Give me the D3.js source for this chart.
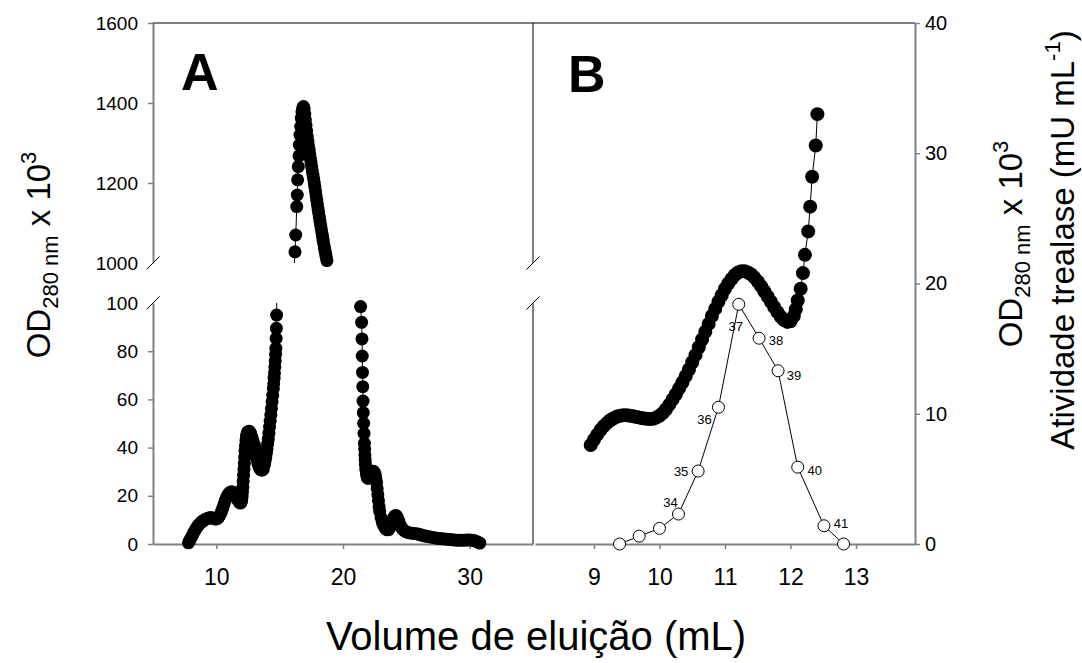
<!DOCTYPE html>
<html>
<head>
<meta charset="utf-8">
<script src="https://cdn.jsdelivr.net/npm/d3@7"></script>
<style>
  body { margin: 0; background: #fff; }
  text { font-family: "Liberation Sans", Arial, sans-serif; }
</style>
</head>
<body>
<svg id="chart" width="1082" height="663"></svg>
<script>
// panel A: OD280 x 10^3 vs elution volume (broken axis 0-100 / 1000-1600)
var aVol = [7.80,7.90,8.00,8.10,8.20,8.30,8.40,8.50,8.60,8.70,8.80,8.90,9.00,9.10,9.20,9.30,9.40,9.50,9.60,9.70,9.80,9.90,
  10.00,10.10,10.20,10.30,10.40,10.50,10.60,10.70,10.80,10.90,11.00,11.10,11.20,11.30,11.40,11.50,11.60,11.70,11.80,11.90,
  11.95,12.00,12.03,12.06,12.09,12.12,12.15,12.18,12.21,12.24,12.27,12.30,12.34,12.38,12.44,12.50,12.60,12.70,12.80,12.90,
  13.00,13.05,13.10,13.15,13.20,13.25,13.30,13.40,13.50,13.60,13.70,13.80,13.85,13.90,13.95,14.00,14.05,14.10,14.15,14.20,
  14.25,14.30,14.35,14.40,14.45,14.50,14.53,14.56,14.59,14.62,14.65,14.68,14.70,14.72,14.74,14.76,
  16.21,16.27,16.35,16.39,16.42,16.47,16.53,16.55,16.60,16.66,16.71,16.76,16.82,16.88,16.93,16.98,17.03,17.08,17.13,17.18,
  17.23,17.28,17.33,17.38,17.43,17.48,17.53,17.58,17.63,17.68,17.73,17.78,17.83,17.88,17.93,17.98,18.03,18.08,18.13,18.18,
  18.23,18.28,18.33,18.38,18.43,18.48,18.53,18.58,18.63,18.68,18.73,
  21.39,21.47,21.50,21.52,21.54,21.56,21.58,21.60,21.63,21.66,21.69,21.71,21.73,21.75,21.77,21.80,21.85,21.90,21.95,22.00,
  22.05,22.10,22.20,22.30,22.40,22.50,22.55,22.60,22.65,22.70,22.75,22.80,22.85,22.90,23.00,23.10,23.20,23.30,23.40,23.50,
  23.60,23.70,23.80,23.90,24.00,24.10,24.20,24.30,24.40,24.50,24.60,24.70,24.80,24.90,25.00,25.20,25.40,25.60,25.80,26.00,
  26.20,26.40,26.60,26.80,27.00,27.20,27.40,27.60,27.80,28.00,28.20,28.40,28.60,28.80,29.00,29.20,29.40,29.60,29.80,30.00,
  30.20,30.40,30.60,30.80];
var aOD = [0.5,1.5,2.5,3.5,4.6,5.6,6.4,7.2,7.9,8.5,9.0,9.4,9.8,10.1,10.4,10.6,10.8,10.9,10.9,10.8,10.6,10.4,
  10.4,10.6,11.2,12.2,13.3,14.8,16.4,18.0,19.3,20.3,21.0,21.5,21.7,21.5,20.9,20.0,19.1,18.2,17.4,17.0,
  17.2,18.0,19.5,21.5,23.5,26.0,28.5,31.0,33.5,36.0,38.5,40.8,43.0,44.8,46.0,46.6,46.8,46.0,44.5,42.8,
  41.0,39.8,38.5,37.0,35.5,34.2,33.0,31.5,30.8,30.6,31.0,33.0,34.4,36.0,37.7,39.5,41.5,43.5,46.0,48.5,
  51.0,53.5,56.2,59.0,61.7,64.5,66.5,68.8,71.0,73.5,76.0,78.7,81.2,85.3,89.5,95.0,
  1028,1070,1141,1170,1208,1241,1268,1295,1320,1341,1362,1378,1388,1391,1385,1372,1358,1344,1330,1316,
  1304,1293,1282,1271,1260,1250,1240,1230,1220,1210,1200,1190,1179,1168,1157,1146,1135,1125,1115,1105,
  1095,1086,1076,1067,1057,1048,1039,1030,1022,1014,1006,
  98.5,92.0,85.1,78.0,71.2,65.3,59.3,54.5,50.1,45.9,41.8,39.5,37.0,35.0,33.0,31.0,29.0,27.8,27.3,27.3,
  27.6,28.3,29.5,30.2,30.2,29.5,28.5,27.0,25.5,23.0,20.5,18.0,15.5,13.5,11.0,9.0,7.8,6.8,6.2,5.9,
  6.0,6.8,8.2,9.8,11.0,11.7,11.8,11.0,9.5,8.0,7.0,6.2,5.7,5.3,5.0,4.7,4.5,4.4,4.3,4.0,
  3.7,3.4,3.2,3.0,2.8,2.6,2.4,2.3,2.2,2.1,2.0,1.9,1.8,1.7,1.6,1.6,1.6,1.6,1.7,1.7,
  1.6,1.3,0.9,0.4];

// panel B: OD280 x 10^3 (filled) and trehalase activity (open) vs volume
var bVol = [8.95,9.00,9.05,9.10,9.15,9.20,9.25,9.30,9.35,9.40,9.45,9.50,9.55,9.60,9.65,9.70,9.75,9.80,9.85,9.90,9.95,
  10.00,10.05,10.10,10.15,10.20,10.25,10.30,10.35,10.40,10.45,10.50,10.55,10.60,10.65,10.70,10.75,10.80,10.85,10.90,10.95,
  11.00,11.05,11.10,11.15,11.20,11.25,11.30,11.35,11.40,11.45,11.50,11.55,11.60,11.65,11.70,11.75,11.80,11.85,11.90,11.95,
  12.00,12.05,12.08,12.11,12.155,12.19,12.22,12.27,12.30,12.33,12.385,12.41];
var bOD = [7.6,8.0,8.4,8.75,9.05,9.3,9.5,9.65,9.78,9.85,9.88,9.88,9.85,9.8,9.75,9.7,9.65,9.62,9.6,9.62,9.7,
  9.85,10.05,10.35,10.7,11.1,11.5,11.95,12.4,12.9,13.4,13.95,14.5,15.1,15.7,16.3,16.9,17.5,18.05,18.6,19.1,
  19.6,20.0,20.35,20.65,20.85,20.95,20.95,20.85,20.7,20.45,20.15,19.8,19.4,19.0,18.6,18.2,17.8,17.45,17.2,17.05,
  17.1,17.5,18.0,18.7,19.6,20.8,22.2,24.0,25.9,28.2,30.6,33.0];
var actVol = [9.39,9.69,10.00,10.29,10.59,10.90,11.21,11.52,11.81,12.11,12.51,12.81];
var actVal = [0,0.6,1.2,2.3,5.6,10.5,18.4,15.8,13.3,5.9,1.4,0];
var fraction = ["","","","34","35","36","37","38","39","40","41",""];
// where each fraction number sits relative to its point
var fracOffset = [[0,0],[0,0],[0,0],[-8,-12],[-17,0],[-14,12],[-3,22],[17,2],[16,5],[17,3],[17,-2],[0,0]];

var ticksTop = [1000,1200,1400,1600];
var ticksBottom = [0,20,40,60,80,100];
var ticksRight = [0,10,20,30,40];
var ticksXA = [10,20,30];
var ticksXB = [9,10,11,12,13];

var svg = d3.select("#chart");
var axisColor = "#808080";
var fmt = d3.format("d");

var xA = d3.scaleLinear().domain([5,35]).range([153,533]);
var xB = d3.scaleLinear().domain([8.1,13.9]).range([535,915]);
var yTop = d3.scaleLinear().domain([1000,1600]).range([263,23]);
var yBot = d3.scaleLinear().domain([0,100]).range([544,303]);
var yR = d3.scaleLinear().domain([0,40]).range([544,23]);

var defs = svg.append("defs");
defs.append("clipPath").attr("id","clipTop").append("rect")
  .attr("x",153).attr("y",yTop(1600)).attr("width",380).attr("height",yTop(1000)-yTop(1600));
defs.append("clipPath").attr("id","clipBot").append("rect")
  .attr("x",153).attr("y",yBot(100)).attr("width",380).attr("height",yBot(0)-yBot(100));

function styleAxis(g, size) {
  g.attr("font-family", null);
  g.select(".domain").attr("stroke",axisColor).attr("stroke-width",2);
  g.selectAll(".tick line").attr("stroke",axisColor).attr("stroke-width",1.5);
  g.selectAll(".tick text").attr("fill","#000").attr("font-size",size);
}

// left broken axis
var gTop = svg.append("g").attr("transform","translate(153,0)")
  .call(d3.axisLeft(yTop).tickValues(ticksTop).tickFormat(fmt).tickSize(5).tickPadding(10).tickSizeOuter(0));
styleAxis(gTop, 19);
gTop.selectAll(".tick").filter(function(d){ return d === 1000; }).select("line").remove();
var gBot = svg.append("g").attr("transform","translate(153,0)")
  .call(d3.axisLeft(yBot).tickValues(ticksBottom).tickFormat(fmt).tickSize(5).tickPadding(10).tickSizeOuter(0));
styleAxis(gBot, 19);
gBot.selectAll(".tick").filter(function(d){ return d === 100; }).select("line").remove();

// divider between panels (A right edge / B left edge), also broken
[[yTop(1600),yTop(1000)],[yBot(100),yBot(0)]].forEach(function(s){
  svg.append("line").attr("x1",533).attr("x2",533).attr("y1",s[0]).attr("y2",s[1])
    .attr("stroke",axisColor).attr("stroke-width",2);
});

// break marks
[153,533].forEach(function(x){
  [yTop(1000), yBot(100)].forEach(function(y){
    svg.append("line").attr("x1",x-6.5).attr("y1",y+6.5).attr("x2",x+6.5).attr("y2",y-6.5)
      .attr("stroke","#000").attr("stroke-width",1);
  });
});

// right axis
var gR = svg.append("g").attr("transform","translate(915,0)")
  .call(d3.axisRight(yR).tickValues(ticksRight).tickFormat(fmt).tickSize(5).tickPadding(5).tickSizeOuter(0));
styleAxis(gR, 20);

// bottom axes
var gXA = svg.append("g").attr("transform","translate(0,544)")
  .call(d3.axisBottom(xA).tickValues(ticksXA).tickFormat(fmt).tickSize(5).tickPadding(20).tickSizeOuter(0));
styleAxis(gXA, 23);
var gXB = svg.append("g").attr("transform","translate(0,544)")
  .call(d3.axisBottom(xB).tickValues(ticksXB).tickFormat(fmt).tickSize(5).tickPadding(20).tickSizeOuter(0));
styleAxis(gXB, 23);

// top frame line
svg.append("line").attr("x1",153).attr("x2",915).attr("y1",23).attr("y2",23)
  .attr("stroke","#000").attr("stroke-width",1);

// panel A series
var aPts = aVol.map(function(v,i){ return {x:v, y:aOD[i]}; });
svg.append("path").datum(aPts).attr("clip-path","url(#clipTop)")
  .attr("fill","none").attr("stroke","#000").attr("stroke-width",1)
  .attr("d", d3.line().x(function(d){ return xA(d.x); }).y(function(d){ return yTop(d.y); }));
svg.append("path").datum(aPts).attr("clip-path","url(#clipBot)")
  .attr("fill","none").attr("stroke","#000").attr("stroke-width",1)
  .attr("d", d3.line().x(function(d){ return xA(d.x); }).y(function(d){ return yBot(d.y); }));
svg.append("g").selectAll("circle").data(aPts).enter().append("circle")
  .attr("cx", function(d){ return xA(d.x); })
  .attr("cy", function(d){ return d.y >= 1000 ? yTop(d.y) : yBot(d.y); })
  .attr("r", 6.5).attr("fill","#000");

// panel B filled series
var bPts = bVol.map(function(v,i){ return {x:v, y:bOD[i]}; });
svg.append("path").datum(bPts).attr("fill","none").attr("stroke","#000").attr("stroke-width",1)
  .attr("d", d3.line().x(function(d){ return xB(d.x); }).y(function(d){ return yR(d.y); }));
svg.append("g").selectAll("circle").data(bPts).enter().append("circle")
  .attr("cx", function(d){ return xB(d.x); }).attr("cy", function(d){ return yR(d.y); })
  .attr("r", 7).attr("fill","#000");

// panel B activity series
var actPts = actVol.map(function(v,i){ return {x:v, y:actVal[i], lab:fraction[i], off:fracOffset[i]}; });
svg.append("path").datum(actPts).attr("fill","none").attr("stroke","#000").attr("stroke-width",1)
  .attr("d", d3.line().x(function(d){ return xB(d.x); }).y(function(d){ return yR(d.y); }));
svg.append("g").selectAll("circle").data(actPts).enter().append("circle")
  .attr("cx", function(d){ return xB(d.x); }).attr("cy", function(d){ return yR(d.y); })
  .attr("r", 6).attr("fill","#fff").attr("stroke","#000").attr("stroke-width",1);
svg.append("g").selectAll("text").data(actPts.filter(function(d){ return d.lab; })).enter().append("text")
  .attr("x", function(d){ return xB(d.x) + d.off[0]; })
  .attr("y", function(d){ return yR(d.y) + d.off[1]; })
  .attr("text-anchor","middle").attr("dominant-baseline","central")
  .attr("font-size",13).text(function(d){ return d.lab; });

// panel letters
svg.append("text").attr("x",181).attr("y",90).attr("font-size",52).attr("font-weight","bold").text("A");
svg.append("text").attr("x",568).attr("y",92).attr("font-size",52).attr("font-weight","bold").text("B");

// axis titles
svg.append("text").attr("x",536).attr("y",650).attr("text-anchor","middle").attr("font-size",40)
  .text("Volume de eluição (mL)");

function odTitle(x, y) {
  var t = svg.append("text").attr("transform","translate("+x+","+y+") rotate(-90)")
    .attr("text-anchor","middle").attr("font-size",33);
  t.append("tspan").text("OD");
  t.append("tspan").attr("font-size",22).attr("dy",8).text("280 nm");
  t.append("tspan").attr("dy",-8).text(" x 10");
  t.append("tspan").attr("font-size",22).attr("dy",-14).text("3");
  return t;
}
odTitle(50, 255);
odTitle(1022, 244);

var act = svg.append("text").attr("transform","translate(1074,240) rotate(-90)")
  .attr("text-anchor","middle").attr("font-size",33);
act.append("tspan").text("Atividade trealase (mU mL");
act.append("tspan").attr("font-size",22).attr("dy",-14).text("-1");
act.append("tspan").attr("dy",14).text(")");
</script>
</body>
</html>
